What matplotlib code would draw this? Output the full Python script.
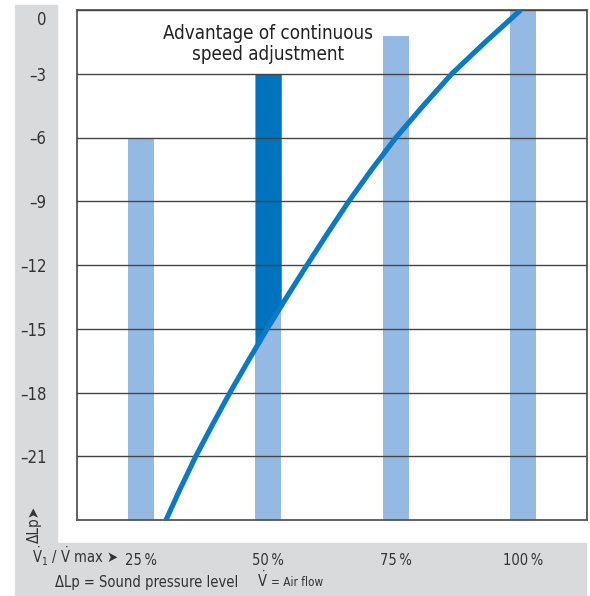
import numpy as np
import matplotlib
matplotlib.use("Agg")
import matplotlib.pyplot as plt
from matplotlib.patches import Rectangle
from matplotlib.transforms import ScaledTranslation

plt.rcParams['font.family'] = ['DejaVu Sans']
plt.rcParams['font.stretch'] = 'condensed'

# bar data (share of max air flow, dB change)
flow_pct = [25, 50, 75, 100]
bar_levels = [-6, -3, -1.2, 0]
tick_labels = ["25\u2009%", "50\u2009%", "75\u2009%", "100\u2009%"]

# continuous speed adjustment curve
curve_flow = [29.95, 32.8, 35.8, 39.1, 42.5, 46.1, 49.8, 53.65, 57.6,
              61.65, 65.8, 70.3, 75.05, 80.4, 86.0, 92.6, 99.5]
curve_level = [-24, -22.5, -21, -19.5, -18, -16.5, -15, -13.5, -12,
               -10.5, -9, -7.5, -6, -4.5, -3, -1.5, 0]

y_ticks = [0, -3, -6, -9, -12, -15, -18, -21]
y_labels = ["0", "–3", "–6", "–9", "–12", "–15", "–18", "–21"]

light = "#94b9e3"
dark = "#0073bf"
line_col = "#0a79c6"
grey = "#d9dadc"
txt = "#333333"

fig = plt.figure(figsize=(5.9, 5.96), dpi=100)
W, H = 590, 596

# grey L-shaped background
fig.patches.append(Rectangle((15 / W, 1 - 543 / H), 42 / W, 538 / H,
                             transform=fig.transFigure, color=grey, zorder=-1))
fig.patches.append(Rectangle((15 / W, 0), 571 / W, 1 - 543 / H,
                             transform=fig.transFigure, color=grey, zorder=-1))

ax = fig.add_axes([77 / W, 1 - 520 / H, 510 / W, 510 / H])
ax.set_zorder(2)
ax.set_xlim(12.5, 112.5)
ax.set_ylim(-24, 0)

bottom = -24
ax.bar(flow_pct, [v - bottom for v in bar_levels], bottom=bottom,
       width=5.1, color=light, zorder=1)

# dark part of the 50% bar: between its top and the curve
bx = np.linspace(50 - 2.55, 50 + 2.55, 50)
by = np.interp(bx, curve_flow, curve_level)
ax.fill_between(bx, by, bar_levels[1], color=dark, lw=0, zorder=2)

ax.plot(curve_flow, curve_level, color=line_col, lw=3.7,
        solid_capstyle='butt', solid_joinstyle='round', zorder=4)

ax.set_yticks(y_ticks)
ax.set_yticklabels(y_labels, fontsize=12, color=txt)
ax.set_xticks(flow_pct)
ax.set_xticklabels(tick_labels, fontsize=10.5, color=txt)
ax.tick_params(axis='y', length=0, pad=22)
ax.tick_params(axis='x', length=0, pad=24)
ax.grid(axis='y', color="#444444", lw=1.0, zorder=3)
ax.set_axisbelow(False)
for s in ax.spines.values():
    s.set_color("#555555")
    s.set_linewidth(1.3)

# the "0" label sits a little below its line in the original
zero_lbl = ax.get_yticklabels()[0]
zero_lbl.set_transform(zero_lbl.get_transform()
                       + ScaledTranslation(0, -0.08, fig.dpi_scale_trans))

ax.text(50, -1.6, "Advantage of continuous\nspeed adjustment",
        ha='center', va='center', fontsize=13.5, color="#222222",
        linespacing=1.15, zorder=5)

fig.text(34 / W, 1 - 524 / H, "ΔLp➤", rotation=90, ha='center', va='center',
         fontsize=11, color=txt)
fig.text(119 / W, 1 - 556 / H,
         r"$\dot{\mathrm{V}}_1$ / $\dot{\mathrm{V}}$ max ➤",
         ha='right', va='center', fontsize=10.5, color=txt)
fig.text(55 / W, 1 - 582 / H, "ΔLp = Sound pressure level", ha='left',
         va='center', fontsize=10.5, color=txt)
fig.text(257 / W, 1 - 580 / H, r"$\dot{\mathrm{V}}$", ha='left',
         va='center', fontsize=10.5, color=txt)
fig.text(271 / W, 1 - 583 / H, "= Air flow", ha='left',
         va='center', fontsize=8.5, color=txt)

fig.savefig("out.png", dpi=100)
